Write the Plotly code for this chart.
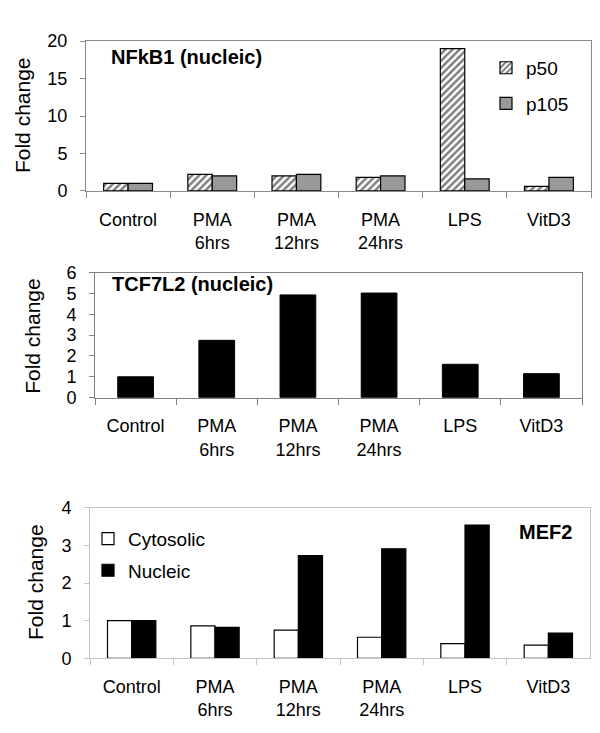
import plotly.graph_objects as go

categories = ["Control", "PMA<br>6hrs", "PMA<br>12hrs", "PMA<br>24hrs", "LPS", "VitD3"]

# Panel 1: NFkB1 (nucleic)
nfkb1_p50 = [1.0, 2.2, 2.0, 1.8, 19.0, 0.6]
nfkb1_p105 = [1.0, 2.0, 2.2, 2.0, 1.6, 1.8]

# Panel 2: TCF7L2 (nucleic)
tcf7l2 = [1.0, 2.75, 4.93, 5.02, 1.6, 1.15]

# Panel 3: MEF2
mef2_cyto = [1.0, 0.86, 0.75, 0.56, 0.39, 0.35]
mef2_nuc = [1.0, 0.82, 2.73, 2.91, 3.54, 0.67]

FONT = "Liberation Sans, Arial, sans-serif"
W, H = 600, 733

def dx(a, b):
    return [a / W, b / W]

def dy(top, bottom):
    return [1 - bottom / H, 1 - top / H]

fig = go.Figure()

bw2 = 0.29
fig.add_trace(go.Bar(x=categories, y=nfkb1_p50, name="p50", xaxis="x", yaxis="y",
                     width=bw2, offset=-bw2,
                     marker=dict(color="white", line=dict(color="black", width=1.2),
                                 pattern=dict(shape="/", fgcolor="black", bgcolor="white",
                                              size=5, solidity=0.5)),
                     legend="legend", legendgroup="a"))
fig.add_trace(go.Bar(x=categories, y=nfkb1_p105, name="p105", xaxis="x", yaxis="y",
                     width=bw2, offset=0,
                     marker=dict(color="#999999", line=dict(color="black", width=1.2)),
                     legend="legend", legendgroup="b"))

fig.add_trace(go.Bar(x=categories, y=tcf7l2, name="TCF7L2", xaxis="x2", yaxis="y2",
                     width=0.44, offset=-0.22, showlegend=False,
                     marker=dict(color="black", line=dict(color="black", width=1))))

fig.add_trace(go.Bar(x=categories, y=mef2_cyto, name="Cytosolic", xaxis="x3", yaxis="y3",
                     width=bw2, offset=-bw2,
                     marker=dict(color="white", line=dict(color="black", width=1.2)),
                     legend="legend2", legendgroup="c"))
fig.add_trace(go.Bar(x=categories, y=mef2_nuc, name="Nucleic", xaxis="x3", yaxis="y3",
                     width=bw2, offset=0,
                     marker=dict(color="black", line=dict(color="black", width=1.2)),
                     legend="legend2", legendgroup="d"))

def xax(domain, anchor, linecolor):
    return dict(domain=domain, anchor=anchor, type="category",
                categoryorder="array", categoryarray=categories,
                showline=True, linecolor=linecolor, linewidth=1, mirror=True,
                ticks="outside", tickson="boundaries", ticklen=6, tickcolor=linecolor,
                showgrid=False, zeroline=False, ticklabelstandoff=12,
                tickfont=dict(family=FONT, size=18, color="black"))

def yax(domain, anchor, rng, dtick, linecolor):
    return dict(domain=domain, anchor=anchor, range=rng, dtick=dtick,
                showline=True, linecolor=linecolor, linewidth=1, mirror=True,
                ticks="outside", ticklen=5, tickcolor=linecolor,
                showgrid=False, zeroline=False, ticklabelstandoff=9,
                tickfont=dict(family=FONT, size=18, color="black"))

layout = dict(
    width=W, height=H,
    margin=dict(l=0, r=0, t=0, b=0),
    paper_bgcolor="white", plot_bgcolor="white",
    barmode="overlay",
    font=dict(family=FONT, color="black"),
    xaxis=xax(dx(86, 591), "y", "#8a8a8a"),
    yaxis=yax(dy(32, 186), "x", [0, 20], 5, "#8a8a8a"),
    xaxis2=xax(dx(95, 582), "y2", "#808080"),
    yaxis2=yax(dy(270, 398.5), "x2", [0, 6], 1, "#808080"),
    xaxis3=xax(dx(90, 590), "y3", "#c4c4c4"),
    yaxis3=yax(dy(511.7, 666.5), "x3", [0, 4], 1, "#c4c4c4"),
    legend=dict(x=486 / W, y=1 - 40 / H, xanchor="left", yanchor="top",
                bgcolor="rgba(0,0,0,0)", tracegroupgap=8,
                font=dict(family=FONT, size=19, color="black"),
                itemwidth=30),
    legend2=dict(x=88 / W, y=1 - 524 / H, xanchor="left", yanchor="top",
                 bgcolor="rgba(0,0,0,0)", tracegroupgap=4,
                 font=dict(family=FONT, size=19, color="black"),
                 itemwidth=30),
    showlegend=True,
)

annotations = [
    dict(text="<b>NFkB1 (nucleic)</b>", x=109 / W, y=1 - 48 / H, xref="paper", yref="paper",
         xanchor="left", yanchor="middle", showarrow=False,
         font=dict(family=FONT, size=20, color="black")),
    dict(text="<b>TCF7L2 (nucleic)</b>", x=110 / W, y=1 - 282 / H, xref="paper", yref="paper",
         xanchor="left", yanchor="middle", showarrow=False,
         font=dict(family=FONT, size=20, color="black")),
    dict(text="<b>MEF2</b>", x=517 / W, y=1 - 537 / H, xref="paper", yref="paper",
         xanchor="left", yanchor="middle", showarrow=False,
         font=dict(family=FONT, size=20, color="black")),
    dict(text="Fold change", x=22 / W, y=1 - 108 / H, xref="paper", yref="paper",
         textangle=-90, xanchor="center", yanchor="middle", showarrow=False,
         font=dict(family=FONT, size=21, color="black")),
    dict(text="Fold change", x=33 / W, y=1 - 335 / H, xref="paper", yref="paper",
         textangle=-90, xanchor="center", yanchor="middle", showarrow=False,
         font=dict(family=FONT, size=21, color="black")),
    dict(text="Fold change", x=36 / W, y=1 - 588 / H, xref="paper", yref="paper",
         textangle=-90, xanchor="center", yanchor="middle", showarrow=False,
         font=dict(family=FONT, size=21, color="black")),
]
layout["annotations"] = annotations

fig.update_layout(**layout)
fig.write_html("out.html", config={"displayModeBar": False},
               post_script="document.body.style.margin='0px';")
